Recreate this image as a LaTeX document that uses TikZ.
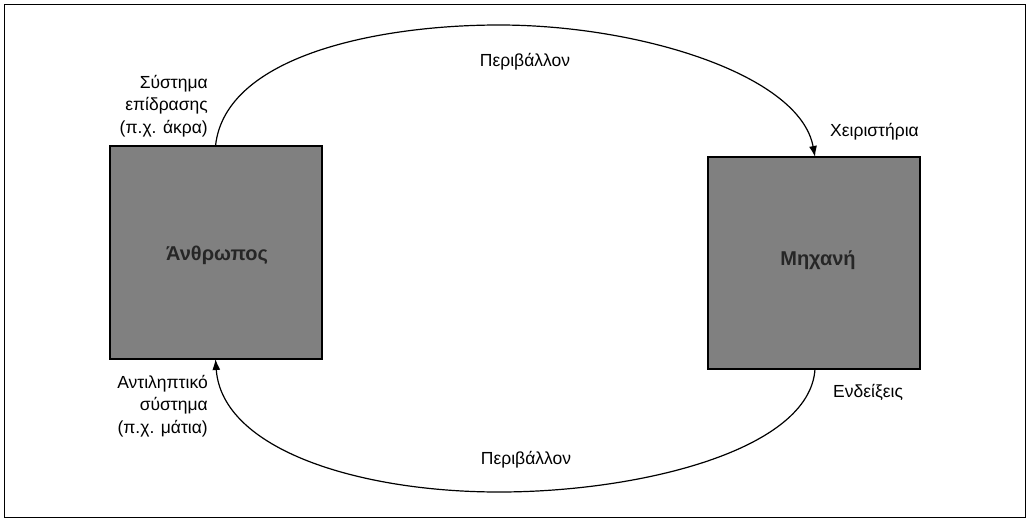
\documentclass[tikz,border=0pt]{standalone}
\usepackage{fontspec}
\setmainfont{Liberation Sans}
\usetikzlibrary{arrows.meta}
\begin{document}
\begin{tikzpicture}[x=1pt,y=-1pt,
  lbl/.style={font=\fontsize{17.5}{22.5}\selectfont, inner sep=0pt},
  unit/.style={draw=black, line width=2.4pt, fill=black!50, inner sep=0pt},
  inner/.style={font=\bfseries\fontsize{20}{24}\selectfont, text=black!85},
  flow/.style={line width=1.2pt, -{Latex[length=11pt,width=8pt]}}]
\useasboundingbox (0,0) rectangle (1030,522);
\node[draw=black, line width=1.4pt, minimum width=1021pt, minimum height=513pt, inner sep=0pt] (frame) at (515,261) {};
\node[unit, minimum width=212pt, minimum height=213pt] (human) at (216,252.5) {};
\node[unit, minimum width=212pt, minimum height=212pt] (machine) at (814,263) {};
\node[inner] (ht) at (217,255) {Άνθρωπος};
\node[inner] (mt) at (818,260) {Μηχανή};
\coordinate (hT) at (215.5,146);
\coordinate (hB) at (215.5,359);
\coordinate (mT) at (815,157);
\coordinate (mB) at (815,369);
\coordinate (top) at (499,25);
\coordinate (bot) at (499,492);
\draw[flow] (hT) .. controls (225,55) and (380,25) .. (top)
  .. controls (640,25) and (800,75) .. (mT);
\draw[flow] (mB) .. controls (810,450) and (640,492) .. (bot)
  .. controls (360,492) and (222,450) .. (hB);
\node[lbl] (env1) at (525,62) {Περιβάλλον};
\node[lbl] (env2) at (526,460) {Περιβάλλον};
\node[lbl, anchor=east, align=right] (eff) at (208,106) {Σύστημα\\επίδρασης\\(π.χ. άκρα)};
\node[lbl, anchor=east, align=right] (per) at (208,406) {Αντιληπτικό\\σύστημα\\(π.χ. μάτια)};
\node[lbl, anchor=west] (ctl) at (830,132) {Χειριστήρια};
\node[lbl, anchor=west] (dsp) at (833,392) {Ενδείξεις};
\end{tikzpicture}
\end{document}
